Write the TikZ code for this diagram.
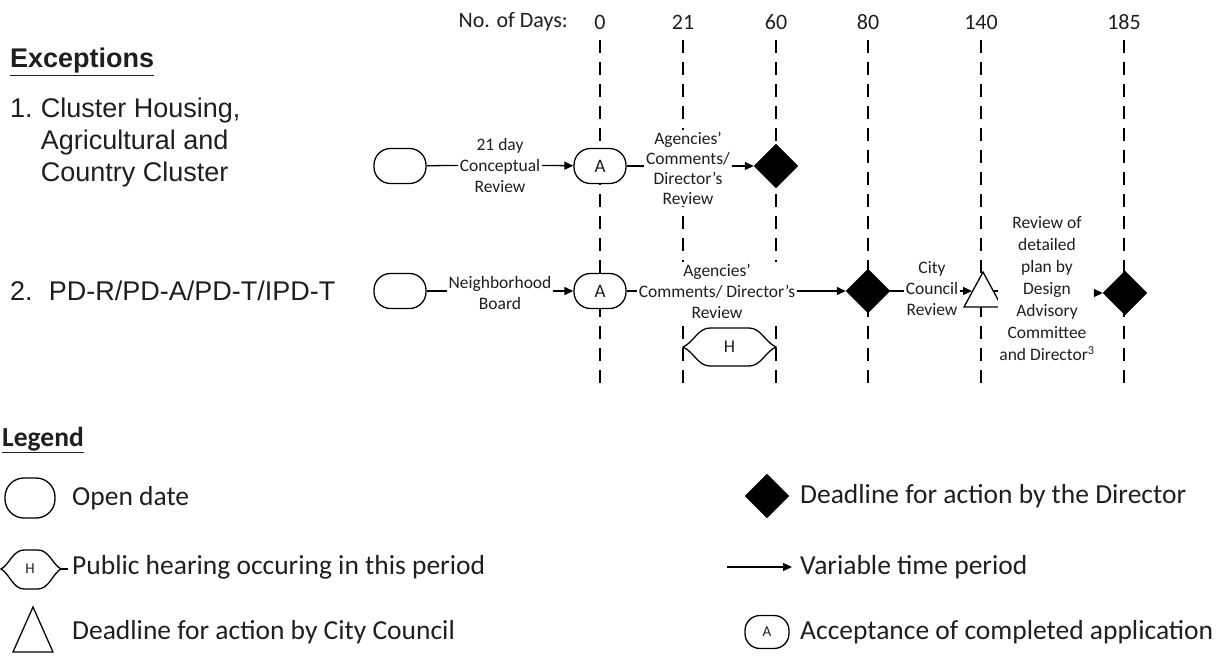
\documentclass[tikz,border=0pt]{standalone}
\usepackage{fontspec}
\setmainfont{Carlito}
\newfontfamily\arialf{Liberation Sans}
\usetikzlibrary{shapes.geometric,arrows.meta}
\begin{document}
\begin{tikzpicture}[x=1pt,y=-1pt,
  every node/.style={inner sep=0pt, text=black!88},
  conn/.style={line width=1.3pt},
  arr/.style={conn, -{Triangle[length=9pt,width=8pt]}},
  vline/.style={line width=1.3pt, dash pattern=on 13pt off 9pt},
  hdr/.style={font=\fontsize{22}{26}\selectfont},
  lbl/.style={font=\fontsize{17.5}{21}\selectfont, align=center, fill=white, inner sep=1.5pt},
  oval/.style={draw, line width=1.3pt, fill=white, rounded corners=16.5pt, minimum width=52pt, minimum height=35pt},
  afont/.style={font=\fontsize{19}{22}\selectfont},
  ddia/.style={diamond, draw, fill=black, minimum width=44pt, minimum height=44pt},
  arl/.style={font=\arialf\fontsize{27}{32}\selectfont},
  legt/.style={font=\fontsize{27.5}{32}\selectfont, anchor=west},
  hshape/.style={line width=1.3pt, fill=white}
]
\useasboundingbox (0,0) rectangle (1221,656);

% header
\node[hdr, anchor=east] (nod) at (568,22) {No. of Days:};
\node[hdr] (d0) at (600,22) {0};
\node[hdr] (d21) at (683,22) {21};
\node[hdr] (d60) at (776,22) {60};
\node[hdr] (d80) at (868,22) {80};
\node[hdr] (d140) at (981,22) {140};
\node[hdr] (d185) at (1124,22) {185};
\foreach \d in {d0,d21,d60,d80,d140,d185}
  \draw[vline] (\d) ++(0,18) -- ++(0,350);

% left labels
\node[arl, anchor=west] (exc) at (10,62) {\textbf{\underline{Exceptions}}};
\node[arl, anchor=west] (ex1) at (10,143) {\begin{tabular}{@{}l@{\hspace{0.3em}}l@{}}1. & Cluster Housing,\\ & Agricultural and\\ & Country Cluster\end{tabular}};
\node[arl, anchor=west] (ex2) at (10,291) {2.\hspace{0.6em}PD-R/PD-A/PD-T/IPD-T};

% row 1
\node[oval] (o1) at (400,166) {};
\node[lbl] (l1) at (500,165) {21 day\\Conceptual\\Review};
\node[oval, afont] (a1) at (600,166) {A};
\node[lbl, font=\fontsize{17.5}{20}\selectfont] (l2) at (688,168) {Agencies'\\Comments/\\Director's\\Review};
\node[ddia] (dd1) at (776,166) {};
\draw[conn] (o1) -- (l1);
\draw[arr] (l1) -- (a1);
\draw[conn] (a1) -- (a1 -| l2.west);
\draw[arr] (a1 -| l2.east) -- (dd1);

% row 2
\node[oval] (o2) at (400,291) {};
\node[lbl] (l3) at (500,293) {Neighborhood\\Board};
\node[oval, afont] (a2) at (600,291) {A};
\node[lbl] (l4) at (717,291) {Agencies'\\Comments/ Director's\\Review};
\node[ddia] (dd2) at (868,291) {};
\node[lbl] (l5) at (932,289) {City\\Council\\Review};
\draw[conn, fill=white] (964,307) -- (983,272) -- (1002,307) -- cycle;
\coordinate (t2w) at (972,291);
\coordinate (t2e) at (994,291);
\node[lbl, font=\fontsize{17.5}{22}\selectfont] (l6) at (1047,289) {Review of\\detailed\\plan by\\Design\\Advisory\\Committee\\and Director\textsuperscript{3}};
\node[ddia] (dd3) at (1125,293) {};
\draw[conn] (o2) -- (o2 -| l3.west);
\draw[arr] (l3.east |- o2) -- (a2);
\draw[conn] (a2) -- (a2 -| l4.west);
\draw[arr] (a2 -| l4.east) -- (dd2);
\draw[conn] (dd2) -- (dd2 -| l5.west);
\draw[arr] (dd2 -| l5.east) -- (t2w);
\draw[conn] (t2e) -- (t2e -| l6.west);
\draw[arr] (dd3 -| l6.east) -- (dd3);

% public hearing in diagram
\draw[hshape] (683,347) .. controls (694,342) and (698,328) .. (710,328) -- (749,328)
  .. controls (761,328) and (765,342) .. (776,347)
  .. controls (765,352) and (761,366) .. (749,366) -- (710,366)
  .. controls (698,366) and (694,352) .. cycle;
\node[font=\fontsize{18}{20}\selectfont] (h1) at (729.5,347) {H};

% legend
\node[anchor=west, font=\bfseries\fontsize{27.5}{32}\selectfont] (lg) at (2,440) {\underline{Legend}};
\node[oval, minimum width=50pt, minimum height=40pt, rounded corners=19pt] (lo) at (30,498) {};
\node[legt] (lot) at (72,498) {Open date};
\draw[hshape] (1,569) .. controls (9,565) and (13,550) .. (24,550) -- (38,550)
  .. controls (49,550) and (53,565) .. (61,569)
  .. controls (53,573) and (49,589) .. (38,589) -- (24,589)
  .. controls (13,589) and (9,573) .. cycle;
\draw[conn] (61,569) -- (68,569);
\node[font=\fontsize{15}{18}\selectfont] (lh) at (30,569) {H};
\node[legt] (lht) at (72,567) {Public hearing occuring in this period};
\draw[conn] (13,652) -- (33,607) -- (53,652) -- cycle;
\node[legt] (ltt) at (72,632) {Deadline for action by City Council};

\node[ddia] (ld) at (767,496) {};
\node[legt] (ldt) at (800,496) {Deadline for action by the Director};
\node[legt] (lvt) at (800,567) {Variable time period};
\coordinate (la0) at (727,567);
\draw[arr] (la0) -- ([xshift=-8pt]lvt.west);
\node[oval, minimum width=44pt, minimum height=33pt, rounded corners=15pt, font=\fontsize{15}{18}\selectfont] (la) at (767,632) {A};
\node[legt] (lat) at (800,632) {Acceptance of completed application};
\end{tikzpicture}
\end{document}
